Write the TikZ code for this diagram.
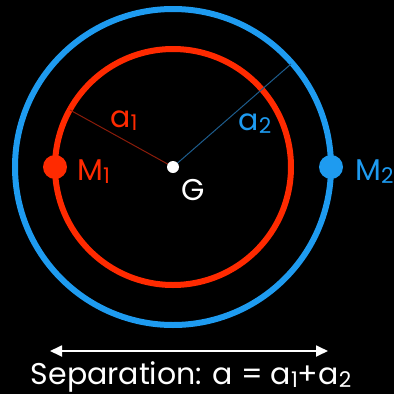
\documentclass[tikz,border=0pt]{standalone}
\usepackage{fontspec}
\usepackage{graphicx}
\setmainfont{Poppins}
\usetikzlibrary{arrows.meta,positioning}
\definecolor{orbred}{HTML}{FF2A00}
\definecolor{orbblue}{HTML}{1E9BF0}
\definecolor{radred}{HTML}{8A1C0A}
\definecolor{radblue}{HTML}{1D5C8C}
\newcommand{\idx}[1]{\raisebox{-0.2ex}{\scalebox{0.72}{#1}}}
\tikzset{
  orbit/.style={line width=6pt},
  mass/.style={circle, inner sep=0pt, minimum size=24pt},
  lbl/.style={inner sep=0pt, font=\fontsize{30}{33}\selectfont},
  radius/.style={line width=1pt},
}

\begin{document}
\begin{tikzpicture}[x=1pt,y=-1pt]
    % Hintergrund
    \fill[black] (0,0) rectangle (394,394);
    \useasboundingbox (0,0) rectangle (394,394);

    % Bahnen
    \draw[orbit, orbblue] (173,167) circle (158);
    \draw[orbit, orbred] (173,167) circle (118);

    % Massen und Schwerpunkt
    \coordinate (cm) at (173,167);
    \coordinate (r1) at (70,110);
    \coordinate (r2) at (291,64);
    \draw[radius, radred] (cm) -- (r1);
    \draw[radius, radblue] (cm) -- (r2);
    \node[mass, fill=white, minimum size=12pt] (G) at (cm) {};
    \node[mass, fill=orbred] (m1) at (55,167) {};
    \node[mass, fill=orbblue] (m2) at (331,167) {};

    % Beschriftungen
    \node[lbl, orbred, anchor=base west] (lm1) at (77,180) {M\idx1};
    \node[lbl, orbblue, anchor=base west] (lm2) at (355,180) {M\idx2};
    \node[lbl, white, anchor=base west] (lG) at (181,200) {G};
    \node[lbl, orbred, anchor=base] (la1) at (124,127) {a\idx1};
    \node[lbl, orbblue, anchor=base] (la2) at (255,130) {a\idx2};

    % Abstand
    \coordinate (sl) at (50,351);
    \coordinate (sr) at (328,351);
    \draw[white, line width=1.8pt, {Triangle[length=12pt,width=11pt]}-{Triangle[length=12pt,width=11pt]}] (sl) -- (sr);
    \node[lbl, white, anchor=base, font=\fontsize{30}{33}\selectfont] (sep) at (191,384) {Separation: a = a\idx1+a\idx2};
\end{tikzpicture}
\end{document}
